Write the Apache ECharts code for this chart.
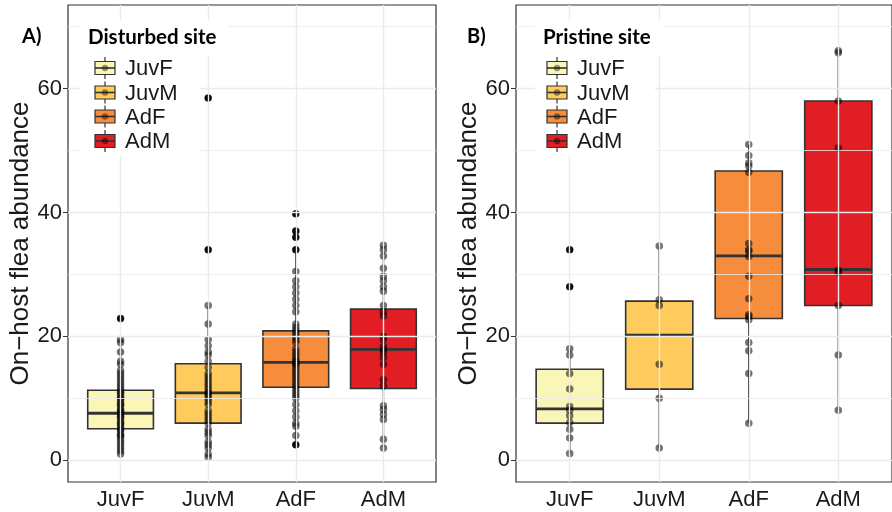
<!DOCTYPE html>
<html><head><meta charset="utf-8">
<script src="https://cdn.jsdelivr.net/npm/echarts@6/dist/echarts.min.js"></script>
<style>html,body{margin:0;padding:0;background:#fff}#c{width:892px;height:512px}</style>
</head><body><div id="c"></div>
<script>
// ---------- data ----------
const categories = ['JuvF', 'JuvM', 'AdF', 'AdM'];
const boxColors = ['#F9F6B8', '#FECB5C', '#F58D3D', '#E01E24'];
const yTicks = [0, 20, 40, 60];
const yMinorTicks = [10, 30, 50, 70];
const panelTitles = ['Disturbed site', 'Pristine site'];
const panelTags = ['A)', 'B)'];
const yTitle = 'On\u2212host flea abundance';

// box stats: [whiskerLow, Q1, median, Q3, whiskerHigh]
const disturbedBox = [
  [1.0, 5.1, 7.6, 11.3, 19.5],
  [0.5, 6.0, 10.9, 15.6, 25.0],
  [2.6, 11.8, 15.8, 20.9, 33.8],
  [2.0, 11.6, 17.9, 24.4, 34.7]
];
const pristineBox = [
  [1.1, 6.0, 8.3, 14.7, 18.0],
  [2.0, 11.5, 20.2, 25.7, 34.6],
  [6.0, 22.9, 33.0, 46.7, 51.0],
  [8.1, 25.0, 30.8, 58.0, 66.1]
];

// individual observations
const disturbedJuvF = [22.9, 19.5, 19, 17.5, 16, 15.5, 14.5, 14, 13.5, 13, 12.5, 12, 11.5, 11, 11, 10.5, 10, 10, 9.5, 9, 9, 8.5, 8, 8, 7.5, 7.5, 7, 7, 6.5, 6, 6, 5.5, 5, 5, 4.5, 4, 4, 3.5, 3, 2.5, 2, 1.5, 1];
const disturbedJuvM = [58.5, 34, 25, 22, 19.5, 18.5, 17.5, 17, 16, 15, 14, 13.5, 13, 12.5, 12, 11.5, 11, 10.8, 10.5, 10, 9.5, 9, 8, 7.5, 7, 6.5, 6, 5, 4.5, 4, 3, 2.5, 2, 1, 0.5];
const disturbedAdF = [39.8, 37, 36, 34, 30.5, 29, 28, 27, 26, 25, 24, 22, 21.5, 21, 20.5, 20, 19.5, 19, 18, 17.5, 17, 16.5, 16, 16, 15.5, 15.5, 15, 14.5, 14, 13.5, 13, 12.5, 12, 11.5, 11, 10.5, 10, 9, 8, 7, 6, 5.5, 4, 2.5];
const disturbedAdM = [34.7, 34, 33, 31, 29.7, 29, 28, 27.3, 25, 24, 23.3, 20, 19.5, 18.4, 17.9, 17.4, 16.6, 15.5, 13, 12, 8.8, 8.2, 7.4, 6.6, 3.4, 2];
const pristineJuvF = [34, 28, 18, 17, 14, 11.5, 8.7, 8.1, 7.2, 6.1, 5, 3.6, 1.1];
const pristineJuvM = [34.6, 25.9, 25, 15.5, 10, 2];
const pristineAdF = [51, 49.2, 48, 47.5, 46.5, 35, 34, 33.8, 32.9, 29.7, 26.1, 23.5, 23.2, 22.7, 19, 17.7, 14, 6];
const pristineAdM = [66.1, 65.8, 58, 50.4, 30.7, 30.3, 25, 17, 8.1];

const disturbedPoints = [disturbedJuvF, disturbedJuvM, disturbedAdF, disturbedAdM];
const pristinePoints = [pristineJuvF, pristineJuvM, pristineAdF, pristineAdM];

// ---------- build ----------
const chart = echarts.init(document.getElementById('c'), null, {renderer: 'canvas'});
const FONT = 'Liberation Sans, Arial, sans-serif';
const TITLEFONT = 'Lato, sans-serif';
const catPos = categories.map((c, i) => i + 1);

const grids = [
  {left: 68, top: 5, width: 368, height: 477},
  {left: 516, top: 5, width: 382, height: 477}
];

function renderBox(params, api) {
  const i = api.value(0);
  const x = api.coord([i, api.value(3)])[0];
  const w = api.size([0.75, 0])[0];
  const yLo = api.coord([i, api.value(1)])[1];
  const yQ1 = api.coord([i, api.value(2)])[1];
  const yMed = api.coord([i, api.value(3)])[1];
  const yQ3 = api.coord([i, api.value(4)])[1];
  const yHi = api.coord([i, api.value(5)])[1];
  const stroke = '#333333';
  return {
    type: 'group',
    children: [
      {type: 'line', shape: {x1: x, y1: yHi, x2: x, y2: yQ3}, style: {stroke, lineWidth: 1.5}},
      {type: 'line', shape: {x1: x, y1: yQ1, x2: x, y2: yLo}, style: {stroke, lineWidth: 1.5}},
      {type: 'rect', shape: {x: x - w / 2, y: yQ3, width: w, height: yQ1 - yQ3},
        style: {fill: boxColors[params.dataIndex], stroke, lineWidth: 1.6}},
      {type: 'line', shape: {x1: x - w / 2, y1: yMed, x2: x + w / 2, y2: yMed}, style: {stroke, lineWidth: 2.8}}
    ]
  };
}

const xAxes = [], yAxes = [], series = [], graphics = [];
[disturbedBox, pristineBox].forEach((boxes, g) => {
  const pts = g === 0 ? disturbedPoints : pristinePoints;
  xAxes.push({
    type: 'value', gridIndex: g, min: 0.4, max: 4.6,
    axisLine: {show: false},
    axisTick: {show: true, customValues: catPos, length: 5, lineStyle: {color: '#333', width: 1}},
    axisLabel: {show: true, customValues: catPos, margin: 7, fontSize: 22, color: '#1a1a1a', fontFamily: FONT,
      formatter: v => categories[Math.round(v) - 1] || ''},
    splitLine: {show: false}
  });
  yAxes.push({
    type: 'value', gridIndex: g, min: -3.5, max: 73.5,
    name: yTitle, nameLocation: 'middle', nameRotate: 90, nameGap: 34,
    nameTextStyle: {fontSize: 26, color: '#1a1a1a', fontFamily: FONT},
    axisLine: {show: false},
    axisTick: {show: true, customValues: yTicks, length: 5, lineStyle: {color: '#333', width: 1}},
    axisLabel: {show: true, customValues: yTicks, margin: 6, fontSize: 22, color: '#1a1a1a', fontFamily: FONT},
    splitLine: {show: false}
  });
  // gridlines
  const ml = [];
  yMinorTicks.forEach(v => ml.push({yAxis: v, lineStyle: {color: '#EBEBEB', width: 0.8, type: 'solid'}}));
  yTicks.forEach(v => ml.push({yAxis: v, lineStyle: {color: '#EBEBEB', width: 1.4, type: 'solid'}}));
  catPos.forEach(v => ml.push({xAxis: v, lineStyle: {color: '#EBEBEB', width: 1.4, type: 'solid'}}));
  series.push({
    type: 'scatter', xAxisIndex: g, yAxisIndex: g, data: [], z: 1, silent: true,
    markLine: {silent: true, symbol: ['none', 'none'], label: {show: false}, animation: false, data: ml}
  });
  // boxes
  series.push({
    type: 'custom', xAxisIndex: g, yAxisIndex: g, z: 2, silent: true,
    renderItem: renderBox,
    encode: {x: 0, y: [1, 2, 3, 4, 5]},
    data: boxes.map((b, i) => [i + 1].concat(b))
  });
  // outliers (solid black)
  const outl = [];
  pts.forEach((arr, i) => arr.forEach(v => {
    if (v < boxes[i][0] - 0.05 || v > boxes[i][4] + 0.05) outl.push([i + 1, v]);
  }));
  series.push({
    type: 'scatter', xAxisIndex: g, yAxisIndex: g, z: 3, silent: true,
    symbolSize: 7, itemStyle: {color: '#151515', opacity: 1}, data: outl
  });
  // all points, translucent
  const all = [];
  pts.forEach((arr, i) => arr.forEach(v => all.push([i + 1, v])));
  series.push({
    type: 'scatter', xAxisIndex: g, yAxisIndex: g, z: 4, silent: true,
    symbolSize: 7.5, itemStyle: {color: 'rgba(0,0,0,0.55)', opacity: 1}, data: all
  });
});

// legends & panel labels (drawn as graphics)
const legendLayout = [
  {tagX: 22, titleX: 88, bgX: 80, bgW: 148, keyX: 105, textX: 125},
  {tagX: 467, titleX: 543, bgX: 535, bgW: 128, keyX: 557, textX: 577}
];
const keyYs = [68, 92.5, 116.5, 141];
legendLayout.forEach((L, g) => {
  graphics.push({type: 'rect', z: 50, shape: {x: L.bgX, y: 20, width: L.bgW, height: 36}, style: {fill: '#fff'}});
  graphics.push({type: 'rect', z: 50, shape: {x: L.bgX, y: 52, width: 120, height: 104}, style: {fill: '#fff'}});
  graphics.push({type: 'text', z: 60, x: L.tagX, y: 37, style: {text: panelTags[g], font: 'bold 20px ' + TITLEFONT, fill: '#000', verticalAlign: 'middle'}});
  graphics.push({type: 'text', z: 60, x: L.titleX, y: 37, style: {text: panelTitles[g], font: 'bold 20.5px ' + TITLEFONT, fill: '#000', verticalAlign: 'middle'}});
  categories.forEach((c, i) => {
    const y = keyYs[i];
    graphics.push({type: 'line', z: 60, shape: {x1: L.keyX, y1: y - 11, x2: L.keyX, y2: y + 11}, style: {stroke: '#333', lineWidth: 1.2}});
    graphics.push({type: 'rect', z: 61, shape: {x: L.keyX - 10, y: y - 6.5, width: 20, height: 13}, style: {fill: boxColors[i], stroke: '#333', lineWidth: 1.2}});
    graphics.push({type: 'line', z: 62, shape: {x1: L.keyX - 10, y1: y, x2: L.keyX + 10, y2: y}, style: {stroke: '#333', lineWidth: 1.6}});
    graphics.push({type: 'circle', z: 63, shape: {cx: L.keyX, cy: y, r: 3.2}, style: {fill: 'rgba(0,0,0,0.4)'}});
    graphics.push({type: 'text', z: 63, x: L.textX, y: y + 1, style: {text: c, font: '22px ' + FONT, fill: '#1a1a1a', verticalAlign: 'middle'}});
  });
});

chart.setOption({
  animation: false,
  backgroundColor: '#ffffff',
  grid: grids.map(g => Object.assign({show: true, borderColor: '#333333', borderWidth: 1.2, backgroundColor: '#ffffff'}, g)),
  xAxis: xAxes,
  yAxis: yAxes,
  series: series,
  graphic: graphics
});
</script>
</body></html>
